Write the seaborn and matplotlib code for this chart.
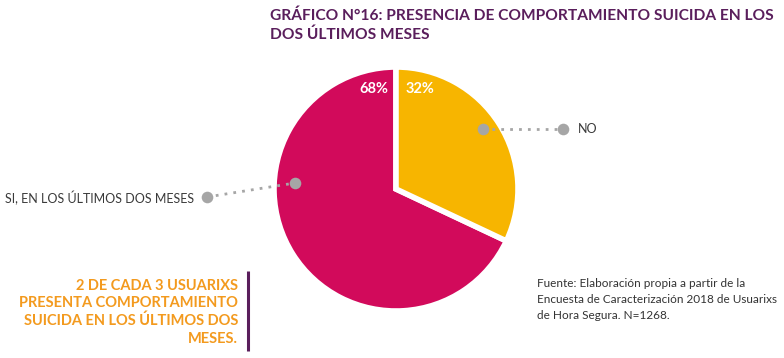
import matplotlib
matplotlib.use("Agg")
import matplotlib.pyplot as plt
import seaborn as sns

# data
categories = ['SI, EN LOS ÚLTIMOS DOS MESES', 'NO']
values = [68, 32]
pct_labels = ['68%', '32%']
colors = ['#D20A5B', '#F7B500']

title = 'GRÁFICO N°16: PRESENCIA DE COMPORTAMIENTO SUICIDA EN LOS\nDOS ÚLTIMOS MESES'
highlight = '2 DE CADA 3 USUARIXS\nPRESENTA COMPORTAMIENTO\nSUICIDA EN LOS ÚLTIMOS DOS\nMESES.'
source = ('Fuente: Elaboración propia a partir de la\n'
          'Encuesta de Caracterización 2018 de Usuarixs\n'
          'de Hora Segura. N=1268.')

sns.set_theme(style='white')
plt.rcParams['font.family'] = ['Lato', 'DejaVu Sans']

W, H = 784, 358
fig = plt.figure(figsize=(W / 100, H / 100), dpi=100)
ax = fig.add_axes([0, 0, 1, 1])


def y(py):
    # pixel row -> data y
    return H - py


cx, cy, r = 396, y(189), 122
wedges, _ = ax.pie(values, colors=colors, startangle=90, counterclock=True,
                   center=(cx, cy), radius=r, frame=True,
                   wedgeprops=dict(edgecolor='white', linewidth=4))
ax.set_xlim(0, W)
ax.set_ylim(0, H)
ax.set_aspect('equal')
ax.axis('off')

# percentage labels
ax.text(374, y(89), pct_labels[0], color='white', fontsize=10.5, fontweight='bold',
        ha='center', va='center')
ax.text(420, y(89), pct_labels[1], color='white', fontsize=10.5, fontweight='bold',
        ha='center', va='center')

# leader lines
dot_c = '#A6A6A6'
txt_c = '#3A3A3A'
ax.plot([483, 563], [y(129), y(129)], ls=(0, (1, 2.2)), lw=2, color=dot_c)
ax.scatter([483, 563], [y(129), y(129)], s=70, color=dot_c, zorder=5, linewidths=0)
ax.text(578, y(129), categories[1], fontsize=9, color=txt_c, ha='left', va='center')

ax.plot([207, 295], [y(197), y(183)], ls=(0, (1, 2.2)), lw=2, color=dot_c)
ax.scatter([207, 295], [y(197), y(183)], s=70, color=dot_c, zorder=5, linewidths=0)
ax.text(194, y(198), categories[0], fontsize=9, color=txt_c, ha='right', va='center')

# title
ax.text(270, y(9), title, fontsize=11.2, fontweight='bold', color='#5A1E5C',
        ha='left', va='top', linespacing=1.33)

# highlight block
ax.text(238, y(279), highlight, fontsize=10.5, fontweight='bold', color='#F39A1E',
        ha='right', va='top', linespacing=1.3)
ax.plot([248, 248], [y(271), y(351)], color='#5A1E5C', lw=2.2, solid_capstyle='butt')

# source
ax.text(537, y(278), source, fontsize=8.5, color='#333333', ha='left', va='top',
        linespacing=1.55)

fig.savefig('out.png', dpi=100, facecolor='white')
